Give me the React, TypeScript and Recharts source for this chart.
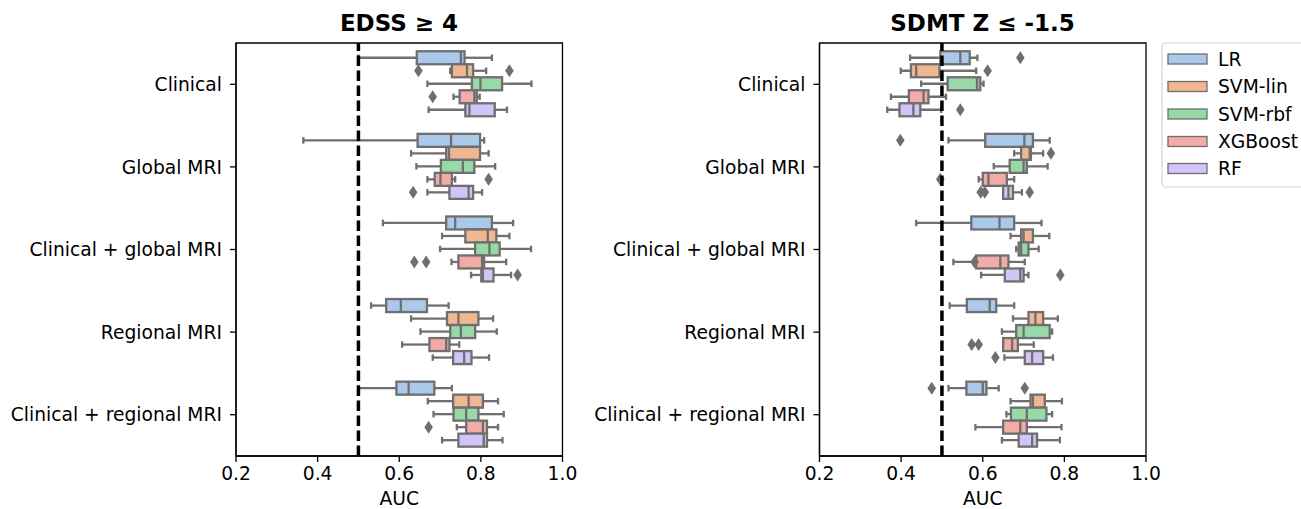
import React from 'react';
import { BarChart, Bar, XAxis, YAxis, ReferenceLine, ReferenceArea } from 'recharts';

const categories = ['Clinical', 'Global MRI', 'Clinical + global MRI', 'Regional MRI', 'Clinical + regional MRI'];
const models = ['LR', 'SVM-lin', 'SVM-rbf', 'XGBoost', 'RF'];
const colors = ['#abc9ea', '#f0b792', '#98daa7', '#f3aba8', '#d3c4f7'];
const xTicks = [0.2, 0.4, 0.6, 0.8, 1.0];

// Box stats per category: [whisker low, Q1, median, Q3, whisker high]
const edssLR = [[0.50, 0.643, 0.751, 0.760, 0.827], [0.365, 0.645, 0.727, 0.798, 0.808], [0.560, 0.715, 0.737, 0.827, 0.879], [0.531, 0.568, 0.604, 0.668, 0.721], [0.500, 0.593, 0.623, 0.686, 0.729]];
const edssSvmLin = [[0.725, 0.729, 0.766, 0.781, 0.813], [0.629, 0.715, 0.722, 0.798, 0.819], [0.705, 0.762, 0.817, 0.838, 0.870], [0.629, 0.717, 0.745, 0.794, 0.830], [0.670, 0.732, 0.770, 0.805, 0.842]];
const edssSvmRbf = [[0.669, 0.778, 0.799, 0.852, 0.924], [0.642, 0.702, 0.756, 0.784, 0.835], [0.700, 0.786, 0.821, 0.846, 0.923], [0.652, 0.725, 0.751, 0.786, 0.839], [0.684, 0.733, 0.764, 0.794, 0.856]];
const edssXgb = [[0.733, 0.748, 0.784, 0.790, 0.797], [0.669, 0.687, 0.701, 0.729, 0.737], [0.728, 0.745, 0.803, 0.808, 0.862], [0.607, 0.674, 0.715, 0.723, 0.747], [0.741, 0.764, 0.805, 0.815, 0.842]];
const edssRf = [[0.672, 0.762, 0.772, 0.834, 0.864], [0.669, 0.723, 0.770, 0.781, 0.803], [0.776, 0.801, 0.805, 0.831, 0.874], [0.682, 0.732, 0.759, 0.777, 0.820], [0.705, 0.745, 0.807, 0.815, 0.853]];

const edssLROut = [[], [], [], [], []];
const edssSvmLinOut = [[0.647, 0.870], [], [], [], []];
const edssSvmRbfOut = [[], [], [], [], []];
const edssXgbOut = [[0.682], [0.819], [0.637, 0.666], [], [0.672]];
const edssRfOut = [[], [0.634], [0.890], [], []];

const sdmtLR = [[0.422, 0.496, 0.545, 0.568, 0.587], [0.516, 0.606, 0.702, 0.723, 0.764], [0.437, 0.572, 0.641, 0.677, 0.744], [0.519, 0.561, 0.617, 0.633, 0.677], [0.516, 0.560, 0.600, 0.609, 0.639]];
const sdmtSvmLin = [[0.399, 0.424, 0.437, 0.494, 0.584], [0.677, 0.694, 0.715, 0.718, 0.748], [0.668, 0.694, 0.700, 0.723, 0.763], [0.674, 0.712, 0.729, 0.748, 0.784], [0.668, 0.717, 0.723, 0.752, 0.794]];
const sdmtSvmRbf = [[0.449, 0.514, 0.586, 0.594, 0.602], [0.627, 0.666, 0.700, 0.708, 0.759], [0.682, 0.688, 0.694, 0.712, 0.737], [0.647, 0.682, 0.700, 0.764, 0.770], [0.658, 0.669, 0.708, 0.756, 0.770]];
const sdmtXgb = [[0.375, 0.419, 0.455, 0.467, 0.510], [0.590, 0.600, 0.614, 0.659, 0.677], [0.528, 0.584, 0.643, 0.663, 0.703], [0.650, 0.650, 0.672, 0.686, 0.725], [0.582, 0.650, 0.692, 0.708, 0.793]];
const sdmtRf = [[0.366, 0.396, 0.430, 0.447, 0.498], [0.650, 0.650, 0.663, 0.674, 0.696], [0.596, 0.654, 0.692, 0.700, 0.712], [0.653, 0.703, 0.721, 0.748, 0.772], [0.647, 0.688, 0.721, 0.733, 0.789]];

const sdmtLROut = [[0.692], [0.398], [], [], [0.475, 0.703]];
const sdmtSvmLinOut = [[0.612], [0.767], [], [], []];
const sdmtSvmRbfOut = [[], [], [], [], []];
const sdmtXgbOut = [[], [0.496], [0.580], [0.573, 0.590], []];
const sdmtRfOut = [[0.545], [0.595, 0.605, 0.715], [0.790], [0.631], []];

const GRAY = '#6f6f6f';
const FONT = 'DejaVu Sans, sans-serif';

type Series = { stats: number[][]; outs: number[][] };

const edssSeries: Series[] = [
  { stats: edssLR, outs: edssLROut },
  { stats: edssSvmLin, outs: edssSvmLinOut },
  { stats: edssSvmRbf, outs: edssSvmRbfOut },
  { stats: edssXgb, outs: edssXgbOut },
  { stats: edssRf, outs: edssRfOut },
];
const sdmtSeries: Series[] = [
  { stats: sdmtLR, outs: sdmtLROut },
  { stats: sdmtSvmLin, outs: sdmtSvmLinOut },
  { stats: sdmtSvmRbf, outs: sdmtSvmRbfOut },
  { stats: sdmtXgb, outs: sdmtXgbOut },
  { stats: sdmtRf, outs: sdmtRfOut },
];

const buildRows = (series: Series[]) =>
  categories.map((cat, ci) => {
    const row: any = { cat };
    models.forEach((m, mi) => {
      const s = series[mi].stats[ci];
      const o = series[mi].outs[ci];
      row[m] = [Math.min(s[0], ...o), Math.max(s[4], ...o)];
    });
    return row;
  });

const makeShape = (series: Series, color: string) => (props: any) => {
  const { x, y, width, height, payload } = props;
  const ci = categories.indexOf(payload.cat);
  const s = series.stats[ci];
  const o = series.outs[ci];
  const lo = Math.min(s[0], ...o);
  const hi = Math.max(s[4], ...o);
  const px = (v: number) => x + ((v - lo) / (hi - lo)) * width;
  const cy = y + height / 2;
  const cap = height / 4;
  const sw = 2.3;
  return (
    <g>
      <line x1={px(s[0])} x2={px(s[1])} y1={cy} y2={cy} stroke={GRAY} strokeWidth={sw} />
      <line x1={px(s[3])} x2={px(s[4])} y1={cy} y2={cy} stroke={GRAY} strokeWidth={sw} />
      <line x1={px(s[0])} x2={px(s[0])} y1={cy - cap} y2={cy + cap} stroke={GRAY} strokeWidth={sw} />
      <line x1={px(s[4])} x2={px(s[4])} y1={cy - cap} y2={cy + cap} stroke={GRAY} strokeWidth={sw} />
      <rect x={px(s[1])} y={y} width={Math.max(px(s[3]) - px(s[1]), 0.5)} height={height} fill={color} stroke={GRAY} strokeWidth={sw} />
      <line x1={px(s[2])} x2={px(s[2])} y1={y} y2={y + height} stroke={GRAY} strokeWidth={sw} />
      {o.map((v, k) => {
        const ox = px(v);
        return (
          <polygon
            key={k}
            points={`${ox},${cy - 6.5} ${ox + 4.3},${cy} ${ox},${cy + 6.5} ${ox - 4.3},${cy}`}
            fill={GRAY}
          />
        );
      })}
    </g>
  );
};

const axisLine = { stroke: '#000', strokeWidth: 1.3 };
const tickStyle = { fontSize: 18.7, fill: '#000', fontFamily: FONT };

const Panel = ({ series, left, yWidth, rightMargin }: { series: Series[]; left: number; yWidth: number; rightMargin: number }) => {
  const rows = buildRows(series);
  return (
    <div style={{ position: 'absolute', left, top: 0 }}>
      <BarChart
        layout="vertical"
        width={yWidth + 326.5 + rightMargin}
        height={509}
        data={rows}
        margin={{ top: 43, right: rightMargin, bottom: 0, left: 0 }}
        barCategoryGap="10%"
        barGap={0}
      >
        <XAxis
          type="number"
          domain={[0.2, 1.0]}
          ticks={xTicks}
          allowDataOverflow
          tickFormatter={(v: number) => v.toFixed(1)}
          height={53}
          tickSize={6}
          tickMargin={5}
          axisLine={axisLine}
          tickLine={axisLine}
          tick={tickStyle}
          label={{ value: 'AUC', position: 'insideBottom', offset: 4, style: { fontSize: 18.7, fill: '#000', fontFamily: FONT } }}
        />
        <YAxis
          type="category"
          dataKey="cat"
          width={yWidth}
          interval={0}
          tickSize={6}
          tickMargin={8}
          axisLine={axisLine}
          tickLine={axisLine}
          tick={tickStyle}
        />
        {models.map((m, mi) => (
          <Bar
            key={m}
            dataKey={m}
            isAnimationActive={false}
            shape={makeShape(series[mi], colors[mi])}
            activeBar={false}
          />
        ))}
        <ReferenceLine x={0.5} stroke="#000" strokeWidth={3.5} strokeDasharray="10.5 4.5" />
        <ReferenceArea x1={0.2} x2={1.0} fill="none" fillOpacity={0} stroke="#000" strokeWidth={1.3} strokeOpacity={1} />
      </BarChart>
    </div>
  );
};

export default function App() {
  const legendRows = [59, 86.5, 114, 141.5, 168.5];
  return (
    <div style={{ position: 'absolute', left: 0, top: 0, width: 1301, height: 509, overflow: 'hidden', background: '#fff' }}>
      <Panel series={edssSeries} left={0} yWidth={236} rightMargin={37.7} />
      <Panel series={sdmtSeries} left={580} yWidth={239.5} rightMargin={34.5} />
      <svg width={1301} height={509} style={{ position: 'absolute', left: 0, top: 0, pointerEvents: 'none' }}>
        <text x={399} y={31} textAnchor="middle" fontFamily={FONT} fontWeight="bold" fontSize={23} fill="#000">EDSS ≥ 4</text>
        <text x={982.5} y={31} textAnchor="middle" fontFamily={FONT} fontWeight="bold" fontSize={23} fill="#000">SDMT Z ≤ -1.5</text>
        <rect x={1162} y={43} width={150} height={144} rx={4} fill="#fff" stroke="#d4d4d4" strokeWidth={1.2} />
        {models.map((m, i) => (
          <g key={m}>
            <rect x={1168} y={legendRows[i] - 5} width={39} height={10} fill={colors[i]} stroke={GRAY} strokeWidth={1.3} />
            <text x={1218} y={legendRows[i] + 6.5} fontFamily={FONT} fontSize={18.7} fill="#000">{m}</text>
          </g>
        ))}
      </svg>
    </div>
  );
}
